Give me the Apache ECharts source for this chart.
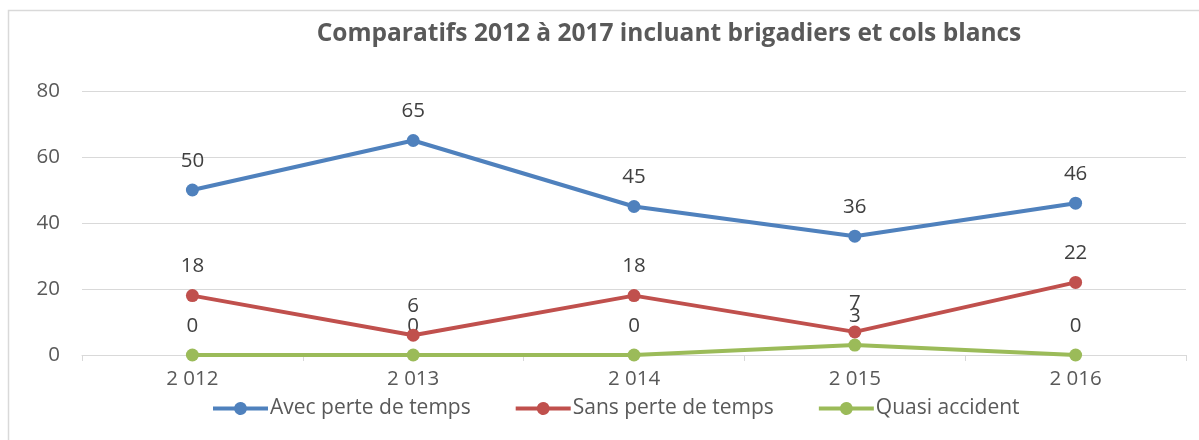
<!DOCTYPE html>
<html>
<head>
<meta charset="utf-8">
<script src="https://cdn.jsdelivr.net/npm/echarts@6/dist/echarts.min.js"></script>
<style>
  html, body { margin: 0; padding: 0; background: #fff; }
  #chart { width: 1199px; height: 440px; }
</style>
</head>
<body>
<div id="chart"></div>
<script>
// données
const years = ['2 012', '2 013', '2 014', '2 015', '2 016'];
const avecPerte = [50, 65, 45, 36, 46];
const sansPerte = [18, 6, 18, 7, 22];
const quasiAccident = [0, 0, 0, 3, 0];

const seriesNames = ['Avec perte de temps', 'Sans perte de temps', 'Quasi accident'];
const seriesColors = ['#4f81bd', '#c0504d', '#9bbb59'];
const seriesData = [avecPerte, sansPerte, quasiAccident];

const font = 'Open Sans, Noto Sans, sans-serif';
// icône de légende : trait épais + rond, façon Excel (contour unique, sans trou)
const legendIcon = 'path://M0,5 L21.32,5 A6.5,6.5 0 0 1 33.68,5 L55,5 L55,9 L33.68,9 A6.5,6.5 0 0 1 21.32,9 L0,9 Z';

var chartDom = document.getElementById('chart');
var myChart = echarts.init(chartDom);

var option = {
    animation: false,
    textStyle: { fontFamily: font },
    graphic: [
        {
            type: 'rect',
            shape: { x: 8.5, y: 10.5, width: 1300, height: 600 },
            style: { fill: 'none', stroke: '#d9d9d9', lineWidth: 1.5 },
            silent: true
        }
    ],
    title: {
        text: 'Comparatifs 2012 à 2017 incluant brigadiers et cols blancs',
        left: 664,
        textAlign: 'center',
        top: 17,
        textStyle: {
            fontFamily: font,
            fontSize: 24.5,
            fontWeight: 'bold',
            color: '#595959'
        }
    },
    legend: {
        data: seriesNames,
        icon: legendIcon,
        top: 398,
        left: 213,
        padding: 0,
        itemWidth: 55,
        itemHeight: 13,
        itemGap: 45,
        textStyle: { fontFamily: font, fontSize: 21, color: '#595959', padding: [0, 0, 0, -3] }
    },
    grid: {
        left: 82,
        right: 13,
        top: 91,
        bottom: 85
    },
    xAxis: {
        type: 'category',
        data: years,
        boundaryGap: true,
        axisLine: { lineStyle: { color: '#d9d9d9', width: 1 } },
        axisTick: { show: true, length: 6, lineStyle: { color: '#d9d9d9' } },
        axisLabel: { fontFamily: font, fontSize: 20.5, color: '#595959', margin: 14 }
    },
    yAxis: {
        type: 'value',
        min: 0,
        max: 80,
        interval: 20,
        axisLine: { show: false },
        axisTick: { show: false },
        splitLine: { lineStyle: { color: '#d9d9d9', width: 1 } },
        axisLabel: { fontFamily: font, fontSize: 20.5, color: '#595959', margin: 22 }
    },
    series: seriesNames.map((name, i) => ({
        name: name,
        type: 'line',
        data: seriesData[i],
        symbol: 'circle',
        symbolSize: 13,
        color: seriesColors[i],
        lineStyle: { width: 4, color: seriesColors[i] },
        itemStyle: { color: seriesColors[i] },
        label: {
            show: true,
            position: 'top',
            distance: 12,
            fontFamily: font,
            fontSize: 20.5,
            color: '#404040'
        },
        z: 3 - i
    }))
};

option && myChart.setOption(option);
</script>
</body>
</html>
